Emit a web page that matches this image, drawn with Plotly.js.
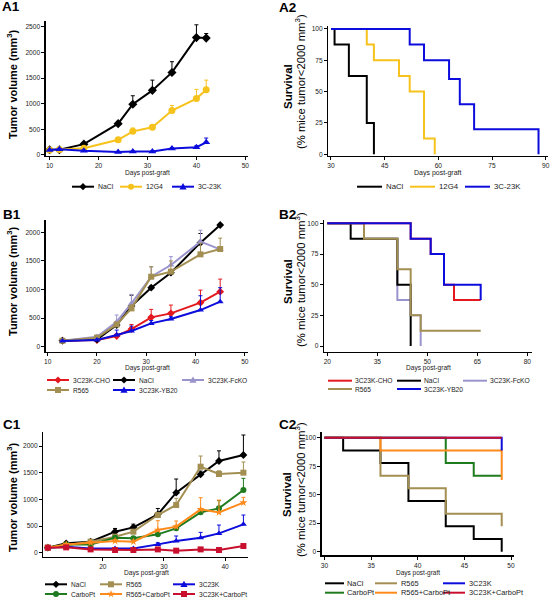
<!DOCTYPE html>
<html><head><meta charset="utf-8">
<script src="https://cdn.plot.ly/plotly-3.0.1.min.js"></script>
<style>html,body{margin:0;padding:0;background:#fff}#chart{width:550px;height:598px}</style>
</head><body><div id="chart"></div>
<script>
// ================= DATA =================
// A1 – tumour growth (mm3)
const a1Days = [10, 12, 17, 24, 27, 31, 35, 40, 42];
const a1NaCl = [100, 100, 210, 610, 990, 1260, 1610, 2290, 2280];
const a1NaClErr = [15, 15, 20, 40, 165, 200, 210, 250, 90];
const a1G4 = [95, 105, 130, 295, 460, 540, 865, 1100, 1270];
const a1G4Err = [10, 10, 10, 25, 65, 40, 100, 180, 190];
const a1K = [95, 110, 80, 55, 65, 65, 125, 150, 245];
const a1KErr = [10, 10, 10, 10, 10, 10, 20, 30, 85];

// A2 – survival (%)
const a2NaClT = [30, 31, 35, 40, 42];
const a2NaClS = [100, 87.5, 62.5, 25, 0];
const a2G4T = [30, 40, 42, 49, 52, 56, 59];
const a2G4S = [100, 87.5, 75, 62.5, 50, 12.5, 0];
const a2KT = [30, 52, 56, 63, 66, 70, 88];
const a2KS = [100, 87.5, 75, 60, 40, 20, 0];

// B1 – tumour growth
const b1Days = [13, 20, 24, 27, 31, 35, 41, 45];
const b1CHO = [105, 117, 187, 309, 513, 583, 770, 962];
const b1CHOErr = [15, 30, 35, 80, 140, 145, 220, 220];
const b1NaCl = [105, 128, 379, 711, 1032, 1294, 1819, 2128];
const b1NaClErr = [15, 15, 20, 190, 30, 40, 160, 20];
const b1FcKO = [105, 175, 437, 758, 1224, 1428, 1836, 1702];
const b1FcKOErr = [15, 30, 117, 157, 170, 146, 200, 20];
const b1R565 = [105, 157, 390, 670, 1224, 1312, 1615, 1708];
const b1R565Err = [15, 20, 30, 60, 175, 187, 192, 190];
const b1YB20 = [99, 117, 204, 274, 408, 484, 641, 787];
const b1YB20Err = [15, 15, 87, 87, 50, 40, 250, 245];

// B2 – survival
const b2CHOT = [20, 45, 51, 55, 58, 66];
const b2CHOS = [100, 87.5, 75, 50, 37.5, 37.5];
const b2NaClT = [20, 27, 41, 45];
const b2NaClS = [100, 87.5, 50, 0];
const b2FcKOT = [20, 31, 41, 45, 48];
const b2FcKOS = [100, 87.5, 37.5, 25, 0];
const b2R565T = [20, 31, 41, 45, 48, 66];
const b2R565S = [100, 87.5, 62.5, 25, 12.5, 12.5];
const b2YB20T = [20, 45, 51, 55, 66];
const b2YB20S = [100, 87.5, 75, 50, 37.5];

// C1 – tumour growth
const c1Days = [11, 14, 18, 22, 25, 29, 32, 36, 39, 43];
const c1NaCl = [94, 175, 206, 394, 475, 719, 1125, 1469, 1719, 1831];
const c1NaClErr = [10, 15, 15, 60, 60, 110, 256, 60, 190, 375];
const c1R565 = [94, 144, 206, 300, 394, 706, 894, 1612, 1475, 1500];
const c1R565Err = [10, 10, 15, 20, 30, 40, 125, 200, 60, 200];
const c1Carbo = [94, 156, 156, 281, 269, 344, 456, 756, 831, 1175];
const c1CarboErr = [10, 10, 15, 20, 20, 30, 40, 60, 144, 219];
const c1RCarbo = [94, 156, 188, 219, 206, 425, 488, 812, 756, 938];
const c1RCarboErr = [10, 10, 15, 30, 30, 175, 106, 219, 230, 100];
const c1K = [94, 112, 81, 81, 81, 156, 219, 281, 362, 531];
const c1KErr = [10, 10, 10, 10, 10, 30, 94, 100, 156, 175];
const c1KCarbo = [94, 100, 62, 50, 50, 62, 38, 62, 50, 125];
const c1KCarboErr = [10, 10, 10, 10, 10, 10, 10, 10, 10, 30];

// C2 – survival
const c2NaClT = [30, 32, 36, 39, 43, 46, 49];
const c2NaClS = [100, 88.9, 77.8, 44.4, 22.2, 11.1, 0];
const c2R565T = [30, 36, 39, 43, 49];
const c2R565S = [100, 66.7, 55.6, 33.3, 22.2];
const c2CarboT = [30, 43, 46, 49];
const c2CarboS = [100, 77.8, 66.7, 66.7];
const c2RCarboT = [30, 36, 49];
const c2RCarboS = [100, 88.9, 63];
const c2KT = [30, 49];
const c2KS = [100, 88.9];
const c2KCarboT = [30, 49];
const c2KCarboS = [100, 100];

// tick values
const growthTicksA = [0, 500, 1000, 1500, 2000, 2500];
const growthTicksBC = [0, 500, 1000, 1500, 2000];
const survTicks = [0, 25, 50, 75, 100];
const a1XTicks = [10, 20, 30, 40, 50];
const a2XTicks = [30, 45, 60, 75, 90];
const b1XTicks = [10, 20, 30, 40, 50];
const b2XTicks = [20, 35, 50, 65, 80];
const c1XTicks = [20, 30, 40];
const c2XTicks = [30, 35, 40, 45, 50];

// ================= STYLE =================
const FONT = 'Liberation Sans, Arial, sans-serif';
const W = 550, H = 598;
const px = x => x / W;
const py = y => 1 - y / H;
const C = {
  black: '#000000', yellow: '#F6C21C', blue: '#0C0CDC', tan: '#A38F52',
  lav: '#9A94CC', red: '#E3191F', green: '#1E7B1E', orange: '#FF8A1C', crimson: '#C8102E'
};

const traces = [];
function axId(n) { return n === 1 ? '' : String(n); }
function growth(name, x, y, err, color, symbol, n, size) {
  traces.push({
    type: 'scatter', mode: 'lines+markers', name, x, y,
    xaxis: 'x' + axId(n), yaxis: 'y' + axId(n),
    line: { color, width: 2 },
    marker: { color, symbol, size: size || 6, line: { width: 0 } },
    error_y: { type: 'data', symmetric: false, array: err, arrayminus: err.map(() => 0),
               color, thickness: 1, width: 2 },
    showlegend: false, cliponaxis: false
  });
}
function surv(name, x, y, color, n) {
  traces.push({
    type: 'scatter', mode: 'lines', name, x, y,
    xaxis: 'x' + axId(n), yaxis: 'y' + axId(n),
    line: { color, width: 2, shape: 'hv' },
    showlegend: false, cliponaxis: false
  });
}

// A1
growth('NaCl', a1Days, a1NaCl, a1NaClErr, C.black, 'diamond', 1, 7);
growth('12G4', a1Days, a1G4, a1G4Err, C.yellow, 'circle', 1, 7);
growth('3C-23K', a1Days, a1K, a1KErr, C.blue, 'triangle-up', 1, 7);
// A2
surv('NaCl', a2NaClT, a2NaClS, C.black, 2);
surv('12G4', a2G4T, a2G4S, C.yellow, 2);
surv('3C-23K', a2KT, a2KS, C.blue, 2);
// B1
growth('3C23K-CHO', b1Days, b1CHO, b1CHOErr, C.red, 'diamond', 3);
growth('NaCl', b1Days, b1NaCl, b1NaClErr, C.black, 'diamond', 3);
growth('3C23K-FcKO', b1Days, b1FcKO, b1FcKOErr, C.lav, 'triangle-up', 3);
growth('R565', b1Days, b1R565, b1R565Err, C.tan, 'square', 3);
growth('3C23K-YB20', b1Days, b1YB20, b1YB20Err, C.blue, 'triangle-up', 3);
// B2
surv('3C23K-FcKO', b2FcKOT, b2FcKOS, C.lav, 4);
surv('NaCl', b2NaClT, b2NaClS, C.black, 4);
surv('R565', b2R565T, b2R565S, C.tan, 4);
surv('3C23K-CHO', b2CHOT, b2CHOS, C.red, 4);
surv('3C23K-YB20', b2YB20T, b2YB20S, C.blue, 4);
// C1
growth('NaCl', c1Days, c1NaCl, c1NaClErr, C.black, 'diamond', 5);
growth('R565', c1Days, c1R565, c1R565Err, C.tan, 'square', 5);
growth('3C23K', c1Days, c1K, c1KErr, C.blue, 'triangle-up', 5);
growth('CarboPt', c1Days, c1Carbo, c1CarboErr, C.green, 'circle', 5);
growth('R565+CarboPt', c1Days, c1RCarbo, c1RCarboErr, C.orange, 'star', 5);
growth('3C23K+CarboPt', c1Days, c1KCarbo, c1KCarboErr, C.crimson, 'square', 5);
// C2
surv('NaCl', c2NaClT, c2NaClS, C.black, 6);
surv('R565', c2R565T, c2R565S, C.tan, 6);
surv('CarboPt', c2CarboT, c2CarboS, C.green, 6);
surv('R565+CarboPt', c2RCarboT, c2RCarboS, C.orange, 6);
surv('3C23K', c2KT, c2KS, C.blue, 6);
surv('3C23K+CarboPt', c2KCarboT, c2KCarboS, C.crimson, 6);

// ================= LAYOUT =================
function axis(domPx, range, ticks, isY) {
  const d = isY ? [py(domPx[1]), py(domPx[0])] : [px(domPx[0]), px(domPx[1])];
  return {
    domain: d, range, tickvals: ticks, ticktext: ticks.map(String),
    showline: true, linecolor: '#000', linewidth: 1.3, mirror: false,
    ticks: 'outside', ticklen: 3, tickwidth: 1, tickcolor: '#000',
    showgrid: false, zeroline: false, fixedrange: true,
    ticklabelstandoff: isY ? 0 : -1.5,
    tickfont: { family: FONT, size: 6.6, color: '#222' }
  };
}
const panels = [
  { x: [45.7, 248.3], y: [20.7, 156], xr: [9.2, 50.6], yr: [-21, 2620], xt: a1XTicks, yt: growthTicksA },
  { x: [328.3, 548], y: [25.7, 156], xr: [29.25, 90.65], yr: [-1.4, 102.6], xt: a2XTicks, yt: survTicks },
  { x: [45.7, 248.3], y: [220, 351.7], xr: [9.6, 50.7], yr: [-87, 2215], xt: b1XTicks, yt: growthTicksBC },
  { x: [324, 531.7], y: [220, 351.7], xr: [19, 81.3], yr: [-4.6, 102.7], xt: b2XTicks, yt: survTicks },
  { x: [43.3, 248.3], y: [431.7, 556.7], xr: [10.26, 43.8], yr: [-75, 2268], xt: c1XTicks, yt: growthTicksBC },
  { x: [321.7, 514.3], y: [431.7, 555.3], xr: [29.7, 50.35], yr: [-3.2, 105.3], xt: c2XTicks, yt: survTicks }
];
const layout = {
  width: W, height: H, margin: { l: 0, r: 0, t: 0, b: 0 },
  paper_bgcolor: '#fff', plot_bgcolor: '#fff', showlegend: false,
  font: { family: FONT, color: '#000' }, annotations: [], shapes: []
};
panels.forEach((p, i) => {
  const n = i + 1;
  const xa = axis(p.x, p.xr, p.xt, false); xa.anchor = 'y' + axId(n);
  const ya = axis(p.y, p.yr, p.yt, true); ya.anchor = 'x' + axId(n);
  layout['xaxis' + axId(n)] = xa;
  layout['yaxis' + axId(n)] = ya;
});

function ann(text, x, y, opts) {
  layout.annotations.push(Object.assign({
    text, xref: 'paper', yref: 'paper', x: px(x), y: py(y), showarrow: false,
    xanchor: 'center', yanchor: 'middle', borderpad: 0,
    font: { family: FONT, size: 7, color: '#000' }
  }, opts || {}));
}
// panel labels
[['A1', 1, 7], ['A2', 278, 7.5], ['B1', 2, 214], ['B2', 278, 214], ['C1', 2, 424], ['C2', 278, 424]]
  .forEach(([t, x, y]) => ann('<b>' + t + '</b>', x, y, { xanchor: 'left', font: { family: FONT, size: 13.5, color: '#000' } }));
// x titles
[[147, 173, 6.6], [438, 173.5, 7], [147, 367.5, 6.6], [428, 367.5, 6.6], [146, 573, 6.6], [418, 573, 6.5]]
  .forEach(([x, y, s]) => ann('Days post-graft', x, y, { font: { family: FONT, size: s, color: '#222' } }));
// growth y titles
[[12, 84], [12, 281], [12, 497]].forEach(([x, y]) =>
  ann('<b>Tumor volume (mm<sup>3</sup>)</b>', x, y, { textangle: -90, font: { family: FONT, size: 11, color: '#000' } }));
// survival y titles
[[288, 87], [288, 282], [287, 495]].forEach(([x, y]) =>
  ann('<b>Survival</b>', x, y, { textangle: -90, font: { family: FONT, size: 11.5, color: '#000' } }));
[[300, 82], [300, 280], [300, 490]].forEach(([x, y]) =>
  ann('(% mice tumor&lt;2000 mm<sup>3</sup>)', x, y, { textangle: -90, font: { family: FONT, size: 11.3, color: '#000' } }));

// ================= LEGENDS (drawn with shapes + text) =================
function markerShape(sym, cx, cy, color) {
  const base = { xref: 'paper', yref: 'paper', xsizemode: 'pixel', ysizemode: 'pixel',
    xanchor: px(cx), yanchor: py(cy), fillcolor: color, line: { width: 0 }, layer: 'above' };
  if (sym === 'circle') return Object.assign(base, { type: 'circle', x0: -3, x1: 3, y0: -3, y1: 3 });
  let path;
  if (sym === 'diamond') path = 'M-3.6,0 L0,3.6 L3.6,0 L0,-3.6 Z';
  else if (sym === 'triangle-up') path = 'M-3.6,-2.8 L3.6,-2.8 L0,3.6 Z';
  else if (sym === 'square') path = 'M-3,-3 L3,-3 L3,3 L-3,3 Z';
  else if (sym === 'star') {
    const pts = [];
    for (let k = 0; k < 10; k++) {
      const r = k % 2 ? 1.6 : 4;
      const a = Math.PI / 2 + k * Math.PI / 5;
      pts.push((r * Math.cos(a)).toFixed(2) + ',' + (r * Math.sin(a)).toFixed(2));
    }
    path = 'M' + pts.join(' L') + ' Z';
  }
  return Object.assign(base, { type: 'path', path });
}
function legendItem(name, color, sym, x, y, len, off, fs) {
  layout.shapes.push({ type: 'line', xref: 'paper', yref: 'paper', x0: px(x), x1: px(x + len),
    y0: py(y), y1: py(y), line: { color, width: 2 }, layer: 'above' });
  if (sym) layout.shapes.push(markerShape(sym, x + len / 2, y, color));
  ann(name, x + off, y, { xanchor: 'left', font: { family: FONT, size: fs, color: '#222' } });
}
// A1
legendItem('NaCl', C.black, 'diamond', 72, 186.7, 22, 25, 6.9);
legendItem('12G4', C.yellow, 'circle', 120, 186.7, 22, 25, 6.9);
legendItem('3C-23K', C.blue, 'triangle-up', 172, 186.7, 22, 25, 6.9);
// A2
legendItem('NaCl', C.black, null, 357, 186.7, 25, 28, 7.8);
legendItem('12G4', C.yellow, null, 410, 186.7, 25, 28, 7.8);
legendItem('3C-23K', C.blue, null, 465, 186.7, 25, 28, 7.8);
// B1
legendItem('3C23K-CHO', C.red, 'diamond', 47, 380, 22, 25, 6.6);
legendItem('NaCl', C.black, 'diamond', 113, 380, 22, 25, 6.6);
legendItem('3C23K-FcKO', C.lav, 'triangle-up', 182, 380, 22, 25, 6.6);
legendItem('R565', C.tan, 'square', 47, 390, 22, 25, 6.6);
legendItem('3C23K-YB20', C.blue, 'triangle-up', 113, 390, 22, 25, 6.6);
// B2
legendItem('3C23K-CHO', C.red, null, 328, 380.7, 24, 26, 6.7);
legendItem('NaCl', C.black, null, 397, 380.7, 24, 26, 6.7);
legendItem('3C23K-FcKO', C.lav, null, 463, 380.7, 24, 26, 6.7);
legendItem('R565', C.tan, null, 328, 389, 24, 26, 6.7);
legendItem('3C23K-YB20', C.blue, null, 397, 389, 24, 26, 6.7);
// C1
legendItem('NaCl', C.black, 'diamond', 45, 584.3, 22, 25, 6.6);
legendItem('R565', C.tan, 'square', 100, 584.3, 22, 25, 6.6);
legendItem('3C23K', C.blue, 'triangle-up', 173, 584.3, 22, 25, 6.6);
legendItem('CarboPt', C.green, 'circle', 45, 594, 22, 25, 6.6);
legendItem('R565+CarboPt', C.orange, 'star', 100, 594, 22, 25, 6.6);
legendItem('3C23K+CarboPt', C.crimson, 'square', 173, 594, 22, 25, 6.6);
// C2
legendItem('NaCl', C.black, null, 325, 583.3, 19, 21, 7.4);
legendItem('R565', C.tan, null, 375, 583.3, 22, 25, 7.4);
legendItem('3C23K', C.blue, null, 443, 583.3, 22, 25, 7.4);
legendItem('CarboPt', C.green, null, 325, 592.7, 19, 21, 7.4);
legendItem('R565+CarboPt', C.orange, null, 375, 592.7, 22, 25, 7.4);
legendItem('3C23K+CarboPt', C.crimson, null, 443, 592.7, 22, 25, 7.4);

Plotly.newPlot('chart', traces, layout, { staticPlot: true, displayModeBar: false });
</script></body></html>
